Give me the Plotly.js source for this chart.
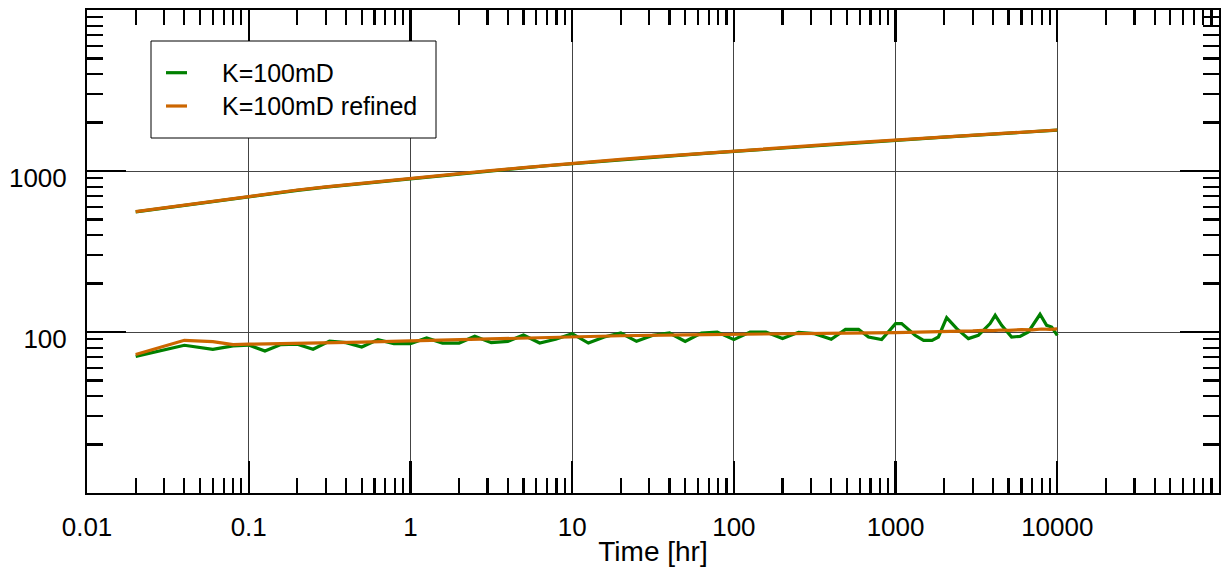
<!DOCTYPE html>
<html>
<head>
<meta charset="utf-8">
<script src="https://cdn.plot.ly/plotly-3.0.1.min.js"></script>
<style>html,body{margin:0;padding:0;background:#fff;}</style>
</head>
<body>
<div id="chart" style="width:1223px;height:567px;"></div>
<script>
// ---- Data ----
const timeUpper = [0.02,0.04,0.06,0.08,0.1,0.2,0.3,0.5,0.7,1,2,3,5,7,10,20,30,50,70,100,200,300,500,700,1000,2000,3000,5000,7000,10000];
const kUpper = [557,612,647,675,697,758,794,836,866,897,960,997,1045,1078,1111,1175,1213,1259,1292,1325,1392,1432,1482,1516,1551,1621,1663,1718,1755,1792];
const kRefinedUpper = [559,615,650,678,700,762,797,840,870,901,965,1002,1050,1083,1116,1180,1218,1265,1298,1331,1398,1438,1488,1522,1557,1628,1670,1725,1762,1798];

const timeLower = [0.02,0.04,0.06,0.08,0.1,0.126,0.158,0.2,0.25,0.316,0.4,0.5,0.63,0.79,1,1.26,1.58,2,2.5,3.16,4,5,6.3,7.9,10,12.6,15.8,20,25,31.6,40,50,63,79,100,126,158,200,251,316,400,490,590,680,820,1000,1090,1320,1490,1680,1840,2070,2390,2820,3250,3840,4130,4530,5220,5880,6620,7820,8590,9230,10000];
const kLower = [70.6,82.7,78.1,81.9,83.0,76.2,83.5,83.9,78.1,87.9,85.9,80.7,89.7,84.7,84.7,91.8,85.4,85.4,94.0,85.9,87.5,95.8,85.4,90.1,97.7,85.4,93.1,98.6,87.5,95.4,98.6,87.5,98.6,100,89.7,100,100,91.0,99.5,97.7,90.1,103.9,103.9,93.1,89.7,112.8,112.8,95.4,88.8,88.8,93.1,122.9,105,91.0,95.4,112.8,127,110,93.1,94.0,100,128.8,110,107.4,95.4];

const timeRefinedLower = [0.02,0.04,0.06,0.08,0.1,0.2,0.5,1,2,5,10,20,50,100,200,500,1000,1500,2000,2500,3000,3500,4000,4500,5000,6000,7000,8000,9000,10000];
const kRefinedLower = [72.4,88.8,87.2,83.5,84.0,84.8,86.5,88.0,89.5,91.5,93.5,94.8,96.0,97.0,97.8,98.5,99.2,99.8,100.6,101.0,101.6,102.4,101.9,102.9,102.4,103.4,103.0,104.4,103.8,104.6];

const seriesNames = ['K=100mD', 'K=100mD refined'];
const xTickVals = [0.01,0.1,1,10,100,1000,10000,100000];
const xTickText = ['0.01','0.1','1','10','100','1000','10000',''];
const yTickVals = [10,100,1000,10000];
const yTickText = ['','100','1000',''];
const xTitle = 'Time [hr]';

// minor tick positions (2..9 within each decade)
function minorTicks(lo, hi) {
  const out = [];
  for (let d = lo; d < hi; d++) {
    for (let m = 2; m <= 9; m++) out.push(m * Math.pow(10, d));
  }
  return out;
}
const xMinor = minorTicks(-2, 5);
const yMinor = minorTicks(1, 4);

const GREEN = '#008000';
const ORANGE = '#cc6600';
const FONT = 'Liberation Sans, Arial, Helvetica, sans-serif';

const traces = [
  {x: timeLower, y: kLower, name: seriesNames[0], mode: 'lines', line: {color: GREEN, width: 3.2}},
  {x: timeUpper, y: kUpper, name: seriesNames[0], mode: 'lines', line: {color: GREEN, width: 3.2}},
  {x: timeRefinedLower, y: kRefinedLower, name: seriesNames[1], mode: 'lines', line: {color: ORANGE, width: 3.2}},
  {x: timeUpper, y: kRefinedUpper, name: seriesNames[1], mode: 'lines', line: {color: ORANGE, width: 3.2}}
];

// legend drawn in paper coordinates (box, line samples, labels)
const PX0 = 87, PW = 1132, PY1 = 493, PH = 483;
const fx = px => (px - PX0) / PW;
const fy = py => (PY1 - py) / PH;
const legendRows = [72.7, 106];
const legendColors = [GREEN, ORANGE];

const shapes = [
  {type: 'rect', xref: 'paper', yref: 'paper', x0: fx(151), x1: fx(436), y0: fy(138), y1: fy(41),
   line: {color: '#000', width: 1}, fillcolor: '#fff', layer: 'above'}
];
const annotations = [];
legendRows.forEach((py, i) => {
  shapes.push({type: 'line', xref: 'paper', yref: 'paper', x0: fx(166), x1: fx(187), y0: fy(py), y1: fy(py),
               line: {color: legendColors[i], width: 3.2}, layer: 'above'});
  annotations.push({xref: 'paper', yref: 'paper', x: fx(221), y: fy(py), xanchor: 'left', yanchor: 'middle',
                    text: seriesNames[i], showarrow: false, borderpad: 0,
                    font: {family: FONT, size: 25, color: '#000'}});
});

const tickStyle = {ticks: 'inside', tickwidth: 2.2, tickcolor: '#000'};

const layout = {
  width: 1223, height: 567,
  margin: {l: 87, r: 4, t: 10, b: 74, pad: 0},
  paper_bgcolor: '#fff', plot_bgcolor: '#fff',
  font: {family: FONT, size: 26, color: '#000'},
  showlegend: false,
  shapes: shapes,
  annotations: annotations,
  xaxis: Object.assign({
    type: 'log', range: [-2, 5], tickmode: 'array', tickvals: xTickVals, ticktext: xTickText,
    ticklen: 32,
    minor: Object.assign({tickmode: 'array', tickvals: xMinor, ticklen: 15, showgrid: false}, tickStyle),
    showline: true, linewidth: 2, linecolor: '#000', mirror: 'ticks',
    showgrid: true, gridcolor: '#444', gridwidth: 1, zeroline: false,
    tickfont: {family: FONT, size: 26, color: '#000'}, ticklabelstandoff: 10,
    automargin: false,
    title: {text: xTitle, font: {family: FONT, size: 28, color: '#000'}, standoff: 2}
  }, tickStyle),
  yaxis: Object.assign({
    type: 'log', range: [1, 4], tickmode: 'array', tickvals: yTickVals, ticktext: yTickText,
    ticklen: 39,
    minor: Object.assign({tickmode: 'array', tickvals: yMinor, ticklen: 16, showgrid: false}, tickStyle),
    showline: true, linewidth: 2, linecolor: '#000', mirror: 'ticks',
    showgrid: true, gridcolor: '#444', gridwidth: 1, zeroline: false,
    tickfont: {family: FONT, size: 26, color: '#000'}, ticklabelstandoff: 13, ticklabelshift: 7,
    automargin: false
  }, tickStyle)
};

Plotly.newPlot('chart', traces, layout, {displayModeBar: false, staticPlot: true});
</script>
</body>
</html>
